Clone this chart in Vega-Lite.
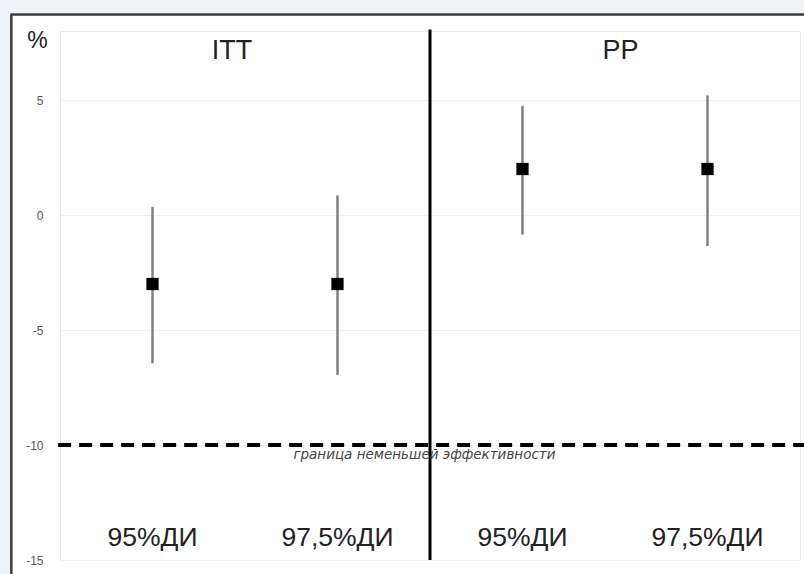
{
  "$schema": "https://vega.github.io/schema/vega-lite/v6.json",
  "width": 740,
  "height": 529,
  "autosize": {"type": "none"},
  "padding": {"left": 60, "top": 31, "right": 4, "bottom": 14},
  "background": "#ffffff",
  "config": {"view": {"stroke": "#e8e8e8", "strokeWidth": 1}, "font": "Liberation Sans", "axisX": {"disable": true}},
  "datasets": {
    "ci": [
      {"analysis": "ITT", "ci": "95%ДИ", "pos": 1, "est": -3, "lo": -6.45, "hi": 0.35},
      {"analysis": "ITT", "ci": "97,5%ДИ", "pos": 2, "est": -3, "lo": -6.95, "hi": 0.85},
      {"analysis": "PP", "ci": "95%ДИ", "pos": 3, "est": 2, "lo": -0.85, "hi": 4.75},
      {"analysis": "PP", "ci": "97,5%ДИ", "pos": 4, "est": 2, "lo": -1.35, "hi": 5.2}
    ],
    "groups": [
      {"analysis": "ITT", "pos": 1.43},
      {"analysis": "PP", "pos": 3.53}
    ],
    "one": [{"note": "граница неменьшей эффективности"}]
  },
  "layer": [
    {
      "data": {"name": "one"},
      "mark": {"type": "rect", "fill": "#eef3f8", "clip": false},
      "encoding": {
        "x": {"datum": 0.1, "type": "quantitative", "scale": {"domain": [0.5, 4.5], "nice": false, "zero": false}},
        "x2": {"datum": 0.232},
        "y": {"datum": 10, "type": "quantitative", "scale": {"domain": [-15, 8], "nice": false, "zero": false}},
        "y2": {"datum": -17}
      }
    },
    {
      "data": {"name": "one"},
      "mark": {"type": "rect", "fill": "#eef3f8", "clip": false},
      "encoding": {
        "x": {"datum": 0.1, "type": "quantitative", "scale": {"domain": [0.5, 4.5], "nice": false, "zero": false}},
        "x2": {"datum": 5},
        "y": {"datum": 10, "type": "quantitative", "scale": {"domain": [-15, 8], "nice": false, "zero": false}},
        "y2": {"datum": 8.78}
      }
    },
    {
      "data": {"name": "one"},
      "mark": {"type": "rule", "color": "#3a3a3a", "strokeWidth": 2.5, "clip": false},
      "encoding": {
        "x": {"datum": 0.237, "type": "quantitative", "scale": {"domain": [0.5, 4.5], "nice": false, "zero": false}},
        "y": {"datum": 8.72, "type": "quantitative", "scale": {"domain": [-15, 8], "nice": false, "zero": false}},
        "y2": {"datum": -17}
      }
    },
    {
      "data": {"name": "one"},
      "mark": {"type": "rule", "color": "#3a3a3a", "strokeWidth": 2.5, "clip": false},
      "encoding": {
        "x": {"datum": 0.232, "type": "quantitative", "scale": {"domain": [0.5, 4.5], "nice": false, "zero": false}},
        "x2": {"datum": 5},
        "y": {"datum": 8.72, "type": "quantitative", "scale": {"domain": [-15, 8], "nice": false, "zero": false}}
      }
    },
    {
      "data": {"name": "ci"},
      "mark": {"type": "rule", "color": "#808080", "strokeWidth": 2.5},
      "encoding": {
        "x": {"field": "pos", "type": "quantitative", "scale": {"domain": [0.5, 4.5], "nice": false, "zero": false}},
        "y": {"field": "lo", "type": "quantitative", "scale": {"domain": [-15, 8], "nice": false, "zero": false}},
        "y2": {"field": "hi"}
      }
    },
    {
      "data": {"name": "ci"},
      "mark": {"type": "point", "shape": "square", "filled": true, "size": 150, "color": "#000000", "opacity": 1},
      "encoding": {
        "x": {"field": "pos", "type": "quantitative", "scale": {"domain": [0.5, 4.5], "nice": false, "zero": false}},
        "y": {
          "field": "est",
          "type": "quantitative",
          "scale": {"domain": [-15, 8], "nice": false, "zero": false},
          "axis": {
            "values": [-15, -10, -5, 0, 5],
            "labelExpr": "datum.value < 0 ? '-' + abs(datum.value) : '' + datum.value",
            "grid": true,
            "gridColor": "#efefef",
            "domain": false,
            "ticks": false,
            "labelPadding": 17,
            "labelFontSize": 12,
            "labelColor": "#555555",
            "title": "%",
            "titleAngle": 0,
            "titleX": -23,
            "titleY": 9,
            "titleAlign": "center",
            "titleBaseline": "middle",
            "titleFontSize": 23,
            "titleFontWeight": "normal",
            "titleColor": "#222222"
          }
        }
      }
    },
    {
      "data": {"name": "one"},
      "mark": {"type": "rule", "color": "#000000", "strokeWidth": 3, "clip": false},
      "encoding": {
        "x": {"datum": 2.5, "type": "quantitative", "scale": {"domain": [0.5, 4.5], "nice": false, "zero": false}},
        "y": {"datum": 8.07, "type": "quantitative", "scale": {"domain": [-15, 8], "nice": false, "zero": false}},
        "y2": {"datum": -15}
      }
    },
    {
      "data": {"name": "one"},
      "mark": {"type": "rule", "color": "#000000", "strokeWidth": 4, "strokeDash": [13, 8], "clip": false},
      "encoding": {
        "x": {"datum": 0.49, "type": "quantitative", "scale": {"domain": [0.5, 4.5], "nice": false, "zero": false}},
        "x2": {"datum": 4.6},
        "y": {"datum": -10, "type": "quantitative", "scale": {"domain": [-15, 8], "nice": false, "zero": false}}
      }
    },
    {
      "data": {"name": "one"},
      "mark": {"type": "text", "font": "DejaVu Sans", "fontStyle": "italic", "fontSize": 13.5, "color": "#444444", "align": "center", "baseline": "middle"},
      "encoding": {
        "text": {"field": "note"},
        "x": {"datum": 2.47, "type": "quantitative", "scale": {"domain": [0.5, 4.5], "nice": false, "zero": false}},
        "y": {"datum": -10.45, "type": "quantitative", "scale": {"domain": [-15, 8], "nice": false, "zero": false}}
      }
    },
    {
      "data": {"name": "ci"},
      "mark": {"type": "text", "fontSize": 26.5, "color": "#222222", "align": "center", "baseline": "middle"},
      "encoding": {
        "text": {"field": "ci"},
        "x": {"field": "pos", "type": "quantitative", "scale": {"domain": [0.5, 4.5], "nice": false, "zero": false}},
        "y": {"datum": -14.05, "type": "quantitative", "scale": {"domain": [-15, 8], "nice": false, "zero": false}}
      }
    },
    {
      "data": {"name": "groups"},
      "mark": {"type": "text", "fontSize": 27, "color": "#222222", "align": "center", "baseline": "middle"},
      "encoding": {
        "text": {"field": "analysis"},
        "x": {"field": "pos", "type": "quantitative", "scale": {"domain": [0.5, 4.5], "nice": false, "zero": false}},
        "y": {"datum": 7.15, "type": "quantitative", "scale": {"domain": [-15, 8], "nice": false, "zero": false}}
      }
    }
  ]
}
